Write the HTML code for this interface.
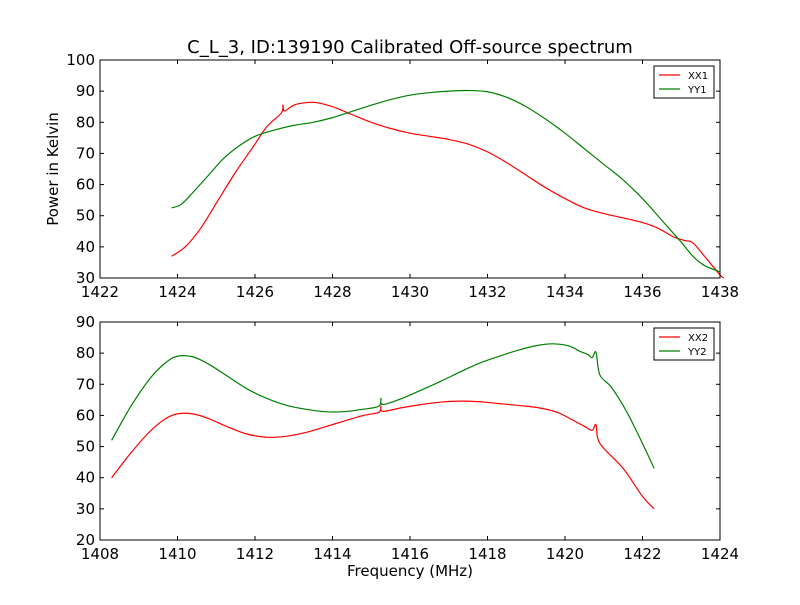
<!DOCTYPE html>
<html><head><meta charset="utf-8"><style>
body{margin:0;background:#fff;width:800px;height:600px;overflow:hidden}
svg text{font-family:"DejaVu Sans","Liberation Sans",sans-serif;fill:#000}
</style></head><body>
<svg id="chart" width="800" height="600" xmlns="http://www.w3.org/2000/svg">
<rect width="800" height="600" fill="#fff"/>
<text x="410" y="53" font-size="18" text-anchor="middle">C_L_3, ID:139190 Calibrated Off-source spectrum</text>
<text transform="translate(58,169) rotate(-90)" font-size="15" text-anchor="middle">Power in Kelvin</text>
<text x="410" y="576" font-size="15" text-anchor="middle">Frequency (MHz)</text>
</svg>
<script>
const topXTicks=[1422,1424,1426,1428,1430,1432,1434,1436,1438];
const topYTicks=[30,40,50,60,70,80,90,100];
const botXTicks=[1408,1410,1412,1414,1416,1418,1420,1422,1424];
const botYTicks=[20,30,40,50,60,70,80,90];
const xx1=[[1423.85,37],[1424.2,40],[1424.6,46],[1425,54],[1425.5,64],[1426,73],[1426.3,78.5],[1426.68,83],[1426.72,85.5],[1426.76,83.6],[1427,85.5],[1427.3,86.3],[1427.6,86.3],[1428,85],[1428.5,82.5],[1429,80],[1429.5,78],[1430,76.5],[1430.5,75.5],[1431,74.5],[1431.5,73],[1432,70.5],[1432.5,67],[1433,63],[1433.5,59],[1434,55.5],[1434.5,52.5],[1435,50.7],[1435.5,49.3],[1436,47.8],[1436.4,46],[1436.8,43.2],[1437.1,42],[1437.3,41.3],[1437.6,37],[1438,31],[1438.1,30]];
const yy1=[[1423.85,52.5],[1424.1,53.7],[1424.4,57.5],[1424.8,63],[1425.2,68.5],[1425.6,72.5],[1426,75.5],[1426.5,77.5],[1427,79],[1427.5,80],[1428,81.5],[1428.5,83.5],[1429,85.5],[1429.5,87.3],[1430,88.7],[1430.5,89.5],[1431,90],[1431.5,90.2],[1432,89.8],[1432.5,88],[1433,85],[1433.5,81],[1434,76.5],[1434.5,71.5],[1435,66.5],[1435.5,61.5],[1436,55.5],[1436.5,48.5],[1437,41.5],[1437.3,37],[1437.6,34],[1438,32]];
const xx2=[[1408.3,40],[1408.8,48],[1409.3,55],[1409.7,59],[1410,60.5],[1410.4,60.5],[1410.8,59],[1411.3,56.3],[1411.8,54],[1412.3,53],[1412.8,53.3],[1413.3,54.5],[1413.8,56.3],[1414.3,58.2],[1414.8,60],[1415.2,61],[1415.25,63],[1415.3,61.3],[1415.8,62.5],[1416.3,63.5],[1416.8,64.3],[1417.3,64.6],[1417.8,64.4],[1418.3,63.8],[1418.8,63.2],[1419.3,62.5],[1419.8,61],[1420.2,58.5],[1420.5,56.5],[1420.7,55.2],[1420.8,57],[1420.9,51],[1421.5,43],[1422,34],[1422.3,30]];
const yy2=[[1408.3,52],[1408.8,63],[1409.3,72],[1409.7,77],[1410,79],[1410.4,78.8],[1410.8,76.5],[1411.3,72.5],[1411.8,68.5],[1412.3,65.5],[1412.8,63.3],[1413.3,62],[1413.8,61.2],[1414.3,61.2],[1414.8,62],[1415.2,63],[1415.25,65.5],[1415.3,63.5],[1415.8,65.5],[1416.3,68.2],[1416.8,71],[1417.3,74],[1417.8,76.8],[1418.3,79],[1418.8,81],[1419.3,82.5],[1419.7,83],[1420.1,82.3],[1420.4,80.5],[1420.6,79.5],[1420.7,78.5],[1420.8,80.3],[1420.9,73],[1421.2,69],[1421.6,61],[1422,51],[1422.3,43]];
const NS='http://www.w3.org/2000/svg';
const svg=document.getElementById('chart');
function mk(t,a){const e=document.createElementNS(NS,t);for(const k in a)e.setAttribute(k,a[k]);svg.appendChild(e);return e;}
function smooth(pts){
  let d='M'+pts[0][0]+','+pts[0][1];
  for(let i=0;i<pts.length-1;i++){
    const p0=pts[Math.max(0,i-1)],p1=pts[i],p2=pts[i+1],p3=pts[Math.min(pts.length-1,i+2)];
    const c1x=p1[0]+(p2[0]-p0[0])/6,c1y=p1[1]+(p2[1]-p0[1])/6;
    const c2x=p2[0]-(p3[0]-p1[0])/6,c2y=p2[1]-(p3[1]-p1[1])/6;
    d+=' C'+c1x+','+c1y+' '+c2x+','+c2y+' '+p2[0]+','+p2[1];
  }
  return d;
}
function panel(name,top,xT,yT,series,labels){
  const L=100,R=720,T=top,B=top+218;
  const x0=xT[0],x1=xT[xT.length-1],y0=yT[0],y1=yT[yT.length-1];
  const sx=v=>L+(v-x0)/(x1-x0)*(R-L);
  const sy=v=>B-(v-y0)/(y1-y0)*(B-T);
  const colors=['#ff0000','#008000'];
  series.forEach((s,i)=>{
    const p=mk('path',{d:smooth(s.map(d=>[sx(d[0]),sy(d[1])])),fill:'none',stroke:colors[i],'stroke-width':1.2});
    
    
  });
  const fr=mk('rect',{x:L,y:T,width:R-L,height:B-T,fill:'none',stroke:'#000','stroke-width':1});
  
  
  xT.forEach(v=>{
    const x=sx(v);
    mk('line',{x1:x,x2:x,y1:B,y2:B-4,stroke:'#000'});
    mk('line',{x1:x,x2:x,y1:T,y2:T+4,stroke:'#000'});
    const t=mk('text',{x:x,y:B+19,'font-size':15,'text-anchor':'middle'});t.textContent=v;
    
    
  });
  yT.forEach(v=>{
    const y=sy(v);
    mk('line',{x1:L,x2:L+4,y1:y,y2:y,stroke:'#000'});
    mk('line',{x1:R,x2:R-4,y1:y,y2:y,stroke:'#000'});
    const t=mk('text',{x:L-5,y:y+5,'font-size':15,'text-anchor':'end'});t.textContent=v;
    
    
  });
  const lg=mk('rect',{x:654,y:T+6,width:60,height:32,fill:'#fff',stroke:'#000','stroke-width':1});
  
  
  labels.forEach((lab,i)=>{
    const y=T+15+i*14;
    mk('line',{x1:659,x2:680,y1:y,y2:y,stroke:colors[i],'stroke-width':1.2});
    const t=mk('text',{x:688,y:y+4,'font-size':10});t.textContent=lab;
    
    
  });
}
panel('top-panel',60,topXTicks,topYTicks,[xx1,yy1],['XX1','YY1']);
panel('bottom-panel',322,botXTicks,botYTicks,[xx2,yy2],['XX2','YY2']);
</script>
</body></html>
